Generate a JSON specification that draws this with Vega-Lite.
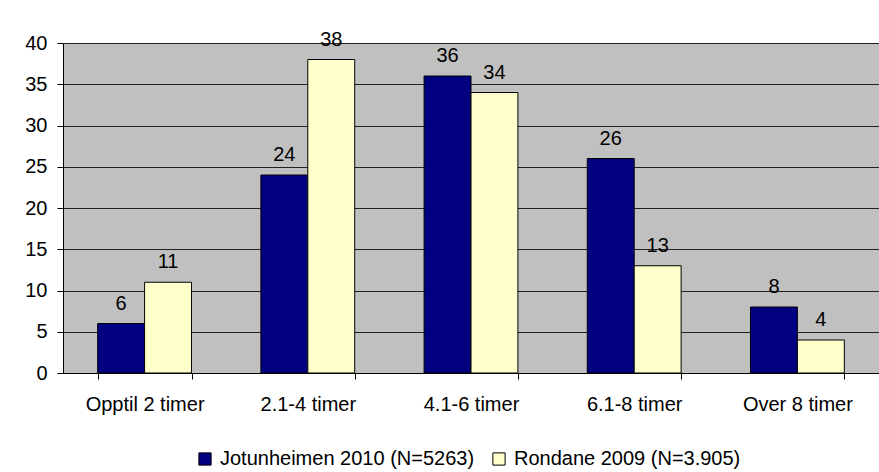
{
  "$schema": "https://vega.github.io/schema/vega-lite/v6.json",
  "width": 816,
  "height": 330,
  "autosize": "none",
  "padding": {"left": 63, "top": 43, "right": 0, "bottom": 99},
  "background": "white",
  "config": {
    "font": "Liberation Sans",
    "view": {"fill": "#C0C0C0", "stroke": null},
    "axis": {"labelFont": "Liberation Sans", "labelFontSize": 20, "labelColor": "black"}
  },
  "data": {
    "values": [
      {"cat": "Opptil 2 timer", "series": "Jotunheimen 2010 (N=5263)", "value": 6},
      {"cat": "Opptil 2 timer", "series": "Rondane 2009 (N=3.905)", "value": 11},
      {"cat": "2.1-4 timer", "series": "Jotunheimen 2010 (N=5263)", "value": 24},
      {"cat": "2.1-4 timer", "series": "Rondane 2009 (N=3.905)", "value": 38},
      {"cat": "4.1-6 timer", "series": "Jotunheimen 2010 (N=5263)", "value": 36},
      {"cat": "4.1-6 timer", "series": "Rondane 2009 (N=3.905)", "value": 34},
      {"cat": "6.1-8 timer", "series": "Jotunheimen 2010 (N=5263)", "value": 26},
      {"cat": "6.1-8 timer", "series": "Rondane 2009 (N=3.905)", "value": 13},
      {"cat": "Over 8 timer", "series": "Jotunheimen 2010 (N=5263)", "value": 8},
      {"cat": "Over 8 timer", "series": "Rondane 2009 (N=3.905)", "value": 4}
    ]
  },
  "encoding": {
    "x": {
      "field": "cat",
      "type": "nominal",
      "sort": null,
      "scale": {"paddingInner": 0.425, "paddingOuter": 0.2125},
      "axis": {
        "title": null,
        "labelAngle": 0,
        "tickBand": "extent",
        "domainColor": "black",
        "tickColor": "black",
        "tickSize": 6,
        "labelPadding": 15,
        "grid": false
      }
    },
    "xOffset": {"field": "series", "type": "nominal", "sort": null},
    "y": {
      "field": "value",
      "type": "quantitative",
      "scale": {"domain": [0, 40], "nice": false},
      "axis": {
        "title": null,
        "values": [0, 5, 10, 15, 20, 25, 30, 35, 40],
        "grid": true,
        "gridColor": "#222222",
        "gridOpacity": 1,
        "domainColor": "black",
        "tickColor": "black",
        "tickSize": 6,
        "labelPadding": 10
      }
    }
  },
  "layer": [
    {
      "mark": {"type": "bar", "stroke": "black", "strokeWidth": 1},
      "encoding": {
        "color": {
          "field": "series",
          "type": "nominal",
          "sort": null,
          "scale": {"range": ["#000080", "#FFFFCC"]},
          "legend": {
            "title": null,
            "orient": "none",
            "direction": "horizontal",
            "legendX": 132,
            "legendY": 406,
            "symbolType": "square",
            "symbolSize": 150,
            "symbolStrokeColor": "black",
            "symbolStrokeWidth": 1,
            "labelFontSize": 20,
            "labelFont": "Liberation Sans",
            "labelColor": "black",
            "labelOffset": 5,
            "columnPadding": 14,
            "labelLimit": 400
          }
        }
      }
    },
    {
      "mark": {"type": "text", "baseline": "alphabetic", "dy": -14, "fontSize": 20, "font": "Liberation Sans", "color": "black"},
      "encoding": {"text": {"field": "value", "type": "quantitative"}}
    }
  ]
}
